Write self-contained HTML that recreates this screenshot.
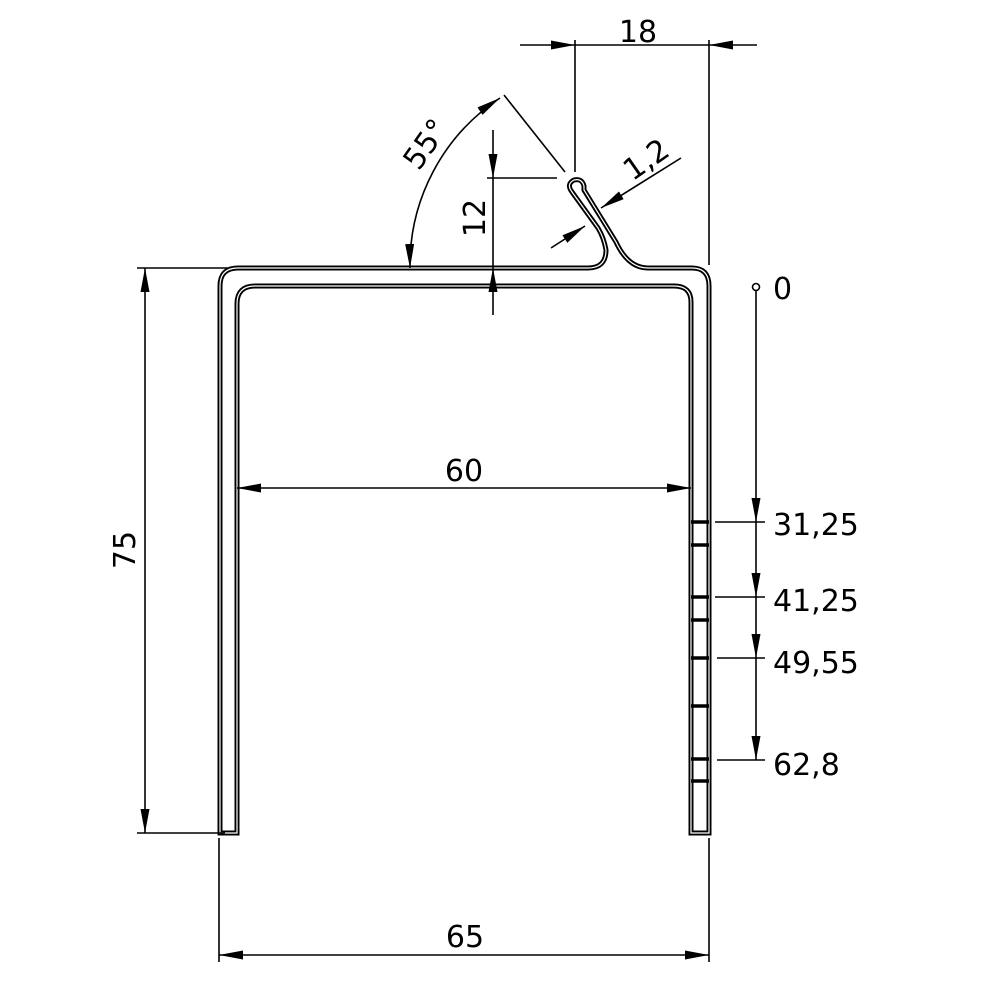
<!DOCTYPE html>
<html><head><style>body{margin:0;background:#fff}svg{display:block}text{font-family:"DejaVu Sans","Liberation Sans",sans-serif;font-size:30px;fill:#000}</style></head>
<body>
<svg width="992" height="992" viewBox="0 0 992 992" xmlns="http://www.w3.org/2000/svg">
<defs>
<marker id="a" viewBox="0 0 24 9" refX="24" refY="4.5" markerWidth="24" markerHeight="9" markerUnits="userSpaceOnUse" orient="auto-start-reverse"><path d="M0,0 L24,4.5 L0,9 z" fill="#000"/></marker>
</defs>
<g fill="none" stroke-linejoin="round">
<g id="prof">
<path d="M220,833 L220,286 Q220,268 238,268 L588,268 Q606,268 606,250 Q604,238 598,228 L572,192 Q566,184 574,180 Q582,178 584,186 L584,190 L616,242 Q628,268 648,268 L692,268 Q709,268 709,286 L709,833 L691,833 L691,302 Q691,286 674,286 L255,286 Q237,286 237,304 L237,833 Z"/>
</g>
</g>
<use href="#prof" stroke="#000" stroke-width="5" fill="none"/>
<use href="#prof" stroke="#fff" stroke-width="1.2" fill="none"/>
<g stroke="#000" stroke-width="3.5">
<line x1="691" y1="522" x2="709" y2="522"/><line x1="691" y1="545" x2="709" y2="545"/>
<line x1="691" y1="597" x2="709" y2="597"/><line x1="691" y1="620" x2="709" y2="620"/>
<line x1="691" y1="658" x2="709" y2="658"/><line x1="691" y1="706" x2="709" y2="706"/>
<line x1="691" y1="759" x2="709" y2="759"/><line x1="691" y1="781" x2="709" y2="781"/>
</g>
<g stroke="#000" stroke-width="1.6" fill="none">
<line x1="137" y1="268" x2="228" y2="268"/><line x1="137" y1="833" x2="225" y2="833"/>
<line x1="145" y1="268" x2="145" y2="833" marker-start="url(#a)" marker-end="url(#a)"/>
<line x1="219" y1="838" x2="219" y2="962"/><line x1="709" y1="838" x2="709" y2="962"/>
<line x1="219" y1="955" x2="709" y2="955" marker-start="url(#a)" marker-end="url(#a)"/>
<line x1="237" y1="488" x2="691" y2="488" marker-start="url(#a)" marker-end="url(#a)"/>
<line x1="575" y1="40" x2="575" y2="172"/><line x1="709" y1="40" x2="709" y2="265"/>
<line x1="520" y1="45" x2="575" y2="45" marker-end="url(#a)"/>
<line x1="757" y1="45" x2="709" y2="45" marker-end="url(#a)"/>
<line x1="575" y1="45" x2="709" y2="45"/>
<line x1="487" y1="178" x2="557" y2="178"/>
<line x1="493" y1="130" x2="493" y2="178" marker-end="url(#a)"/>
<line x1="493" y1="315" x2="493" y2="268" marker-end="url(#a)"/>
<line x1="493" y1="178" x2="493" y2="268"/>
<line x1="681" y1="158" x2="601" y2="208" marker-end="url(#a)"/>
<line x1="551" y1="248" x2="585" y2="226" marker-end="url(#a)"/>
<line x1="504" y1="95" x2="565" y2="172"/>
<path d="M410,268 A200,200 0 0 1 500,98" marker-start="url(#a)" marker-end="url(#a)"/>
<circle cx="756" cy="287" r="3.5"/>
<line x1="756" y1="290" x2="756" y2="522" marker-end="url(#a)"/>
<line x1="756" y1="522" x2="756" y2="597" marker-end="url(#a)"/>
<line x1="756" y1="597" x2="756" y2="658" marker-end="url(#a)"/>
<line x1="756" y1="658" x2="756" y2="760" marker-end="url(#a)"/>
<line x1="715" y1="522" x2="765" y2="522"/><line x1="715" y1="597" x2="765" y2="597"/>
<line x1="717" y1="658" x2="765" y2="658"/><line x1="717" y1="760" x2="765" y2="760"/>
</g>
<text x="638" y="42" text-anchor="middle">18</text>
<text transform="translate(652,168) rotate(-35)" text-anchor="middle">1,2</text>
<text transform="translate(485,218) rotate(-90)" text-anchor="middle">12</text>
<text transform="translate(434,150) rotate(-55)" text-anchor="middle">55°</text>
<text x="464" y="481" text-anchor="middle">60</text>
<text transform="translate(135,550) rotate(-90)" text-anchor="middle">75</text>
<text x="465" y="947" text-anchor="middle">65</text>
<text x="773" y="299">0</text>
<text x="773" y="535">31,25</text>
<text x="773" y="611">41,25</text>
<text x="773" y="673">49,55</text>
<text x="773" y="775">62,8</text>
</svg>
</body></html>
